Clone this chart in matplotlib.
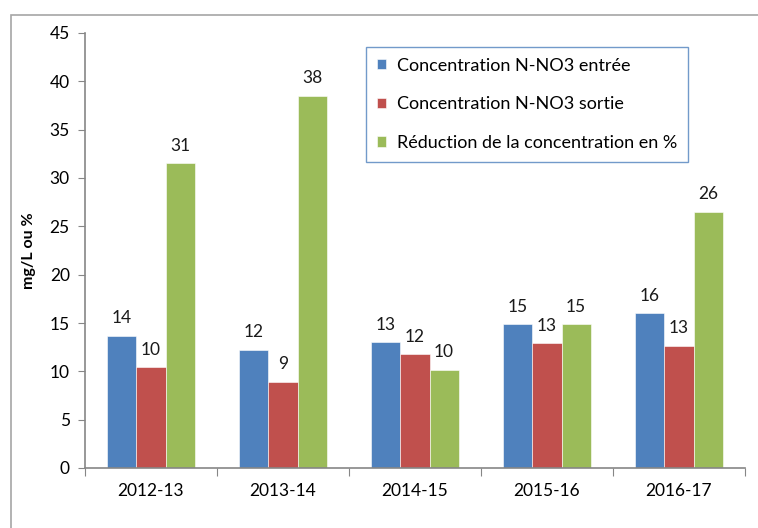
import numpy as np
import matplotlib
matplotlib.use('Agg')
import matplotlib.pyplot as plt
from matplotlib.patches import Rectangle

plt.rcParams['font.family'] = ['Lato', 'DejaVu Sans']

years = ['2012-13', '2013-14', '2014-15', '2015-16', '2016-17']
entree = [13.7, 12.25, 13.0, 14.85, 16.0]
sortie = [10.4, 8.9, 11.75, 12.9, 12.65]
reduction = [31.5, 38.5, 10.15, 14.85, 26.5]
labels_entree = ['14', '12', '13', '15', '16']
labels_sortie = ['10', '9', '12', '13', '13']
labels_reduction = ['31', '38', '10', '15', '26']

series = [
    ('Concentration N-NO3 entrée', entree, labels_entree, '#4F81BD'),
    ('Concentration N-NO3 sortie', sortie, labels_sortie, '#C0504D'),
    ('Réduction de la concentration en %', reduction, labels_reduction, '#9BBB59'),
]

fig = plt.figure(figsize=(7.58, 5.28), dpi=100)
# outer chart frame
fig.patches.append(Rectangle((11/758, -0.05), 1.0, 1 - 15/528 + 0.05,
                             transform=fig.transFigure, fill=False,
                             edgecolor='#A6A6A6', linewidth=1.2))

ax = fig.add_axes([85/758, 1 - 468/528, 660/758, 435/528])

x = np.arange(len(years))
w = 0.22
for i, (name, vals, labs, col) in enumerate(series):
    pos = x + (i - 1) * w
    bars = ax.bar(pos, vals, width=w, color=col, label=name,
                  edgecolor='white', linewidth=0.4)
    for b, lab in zip(bars, labs):
        ax.annotate(lab, (b.get_x() + b.get_width() / 2, b.get_height()),
                    xytext=(0, 7), textcoords='offset points',
                    ha='center', va='bottom', fontsize=12.5, color='#1a1a1a')

ax.set_xlim(-0.5, len(years) - 0.5)
ax.set_ylim(0, 45)
ax.set_yticks(np.arange(0, 46, 5))
ax.set_xticks(np.arange(-0.5, len(years), 1.0))
ax.set_xticklabels([])
ax.set_xticks(x, minor=True)
ax.set_xticklabels(years, minor=True)
ax.tick_params(axis='x', which='minor', length=0, pad=11, labelsize=12.5)
ax.tick_params(axis='x', which='major', length=6, color='#868686')
ax.tick_params(axis='y', length=5, color='#868686', labelsize=12.5, pad=6)

for s in ['top', 'right']:
    ax.spines[s].set_visible(False)
for s in ['left', 'bottom']:
    ax.spines[s].set_color('#868686')
    ax.spines[s].set_linewidth(1.2)

ax.set_ylabel('mg/L ou %', fontsize=11.5, fontweight='bold', labelpad=10)

leg = ax.legend(loc='upper left', bbox_to_anchor=(0.426, 0.968),
                fontsize=13, frameon=True, fancybox=False,
                handlelength=0.5, handleheight=0.5, handletextpad=0.6,
                labelspacing=1.25, borderpad=0.6, borderaxespad=0)
leg.get_frame().set_edgecolor('#4F81BD')
leg.get_frame().set_linewidth(1.0)

fig.savefig('out.png', dpi=100)
